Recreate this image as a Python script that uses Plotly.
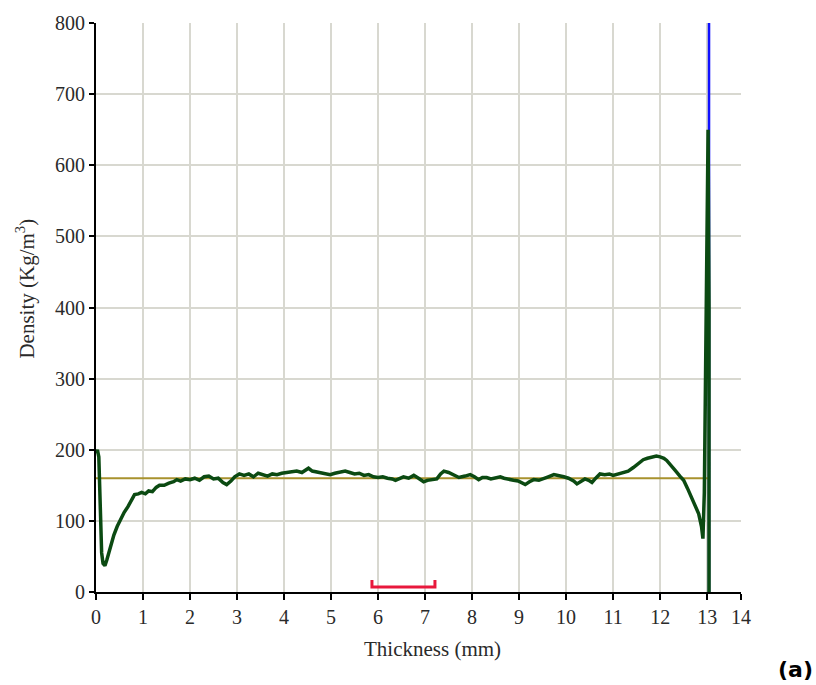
import plotly.graph_objects as go

# Density profile across the board thickness
thickness_mm = [
    0.00, 0.03, 0.06, 0.09, 0.12, 0.15, 0.19, 0.23, 0.28, 0.33, 0.38, 0.45, 0.52, 0.60, 0.68, 0.75,
    0.82, 0.90, 0.97, 1.05, 1.12, 1.20, 1.28, 1.35, 1.45, 1.55, 1.65, 1.72, 1.80, 1.90, 2.00, 2.10,
    2.20, 2.30, 2.40, 2.50, 2.60, 2.70, 2.78, 2.87, 2.95, 3.05, 3.15, 3.25, 3.35, 3.45, 3.55, 3.65,
    3.75, 3.85, 3.95, 4.05, 4.15, 4.27, 4.38, 4.45, 4.52, 4.60, 4.70, 4.80, 4.90, 4.98, 5.08, 5.18,
    5.30, 5.40, 5.50, 5.60, 5.70, 5.80, 5.90, 6.00, 6.10, 6.20, 6.30, 6.37, 6.45, 6.54, 6.65, 6.76,
    6.86, 6.97, 7.05, 7.15, 7.25, 7.33, 7.40, 7.50, 7.60, 7.72, 7.85, 7.96, 8.05, 8.14, 8.22, 8.31,
    8.40, 8.50, 8.60, 8.68, 8.78, 8.88, 8.98, 9.06, 9.13, 9.22, 9.31, 9.42, 9.52, 9.62, 9.74, 9.85,
    9.95, 10.05, 10.16, 10.23, 10.32, 10.40, 10.48, 10.55, 10.63, 10.72, 10.82, 10.92, 11.00, 11.10,
    11.22, 11.32, 11.43, 11.54, 11.64, 11.73, 11.82, 11.92, 12.00, 12.08, 12.14, 12.22, 12.32, 12.42,
    12.50, 12.58, 12.67, 12.75, 12.82, 12.88, 12.91, 12.94, 12.97, 13.00, 13.02, 13.04, 13.04,
]
density = [
    195, 200, 190, 120, 55, 40, 37, 45, 58, 70, 80, 92, 102, 112, 120, 128,
    137, 138, 140, 138, 142, 141, 147, 150, 150, 153, 155, 158, 156, 159, 158, 160,
    157, 162, 163, 159, 160, 154, 151, 156, 162, 166, 164, 166, 162, 167, 165, 163,
    166, 165, 167, 168, 168, 170, 168, 171, 174, 170, 169, 167, 166, 165, 167, 168,
    170, 168, 166, 167, 164, 165, 162, 161, 162, 160, 159, 157, 160, 162, 160, 164,
    160, 155, 157, 158, 159, 166, 170, 168, 165, 161, 163, 165, 162, 158, 161, 161,
    159, 161, 162, 160, 158, 157, 156, 154, 151, 155, 158, 157, 159, 162, 165, 164,
    162, 160, 156, 152, 156, 159, 157, 154, 160, 166, 165, 166, 164, 166,
    168, 170, 175, 180, 186, 188, 190, 191, 190, 188, 185, 178, 171, 163,
    157, 146, 133, 121, 110, 92, 75, 140, 320, 500, 650, 400, 0,
]

# Mean density and board edge
mean_density = 160
mean_span = [0.0, 13.04]
edge_x = 13.04
edge_span = [0, 800]

# Sampled zone marker
zone_x = [5.87, 5.87, 7.21, 7.21]
zone_y = [17, 7, 7, 17]

x_tick_vals = [0, 1, 2, 3, 4, 5, 6, 7, 8, 9, 10, 11, 12, 13, 13.72]
x_tick_text = ["0", "1", "2", "3", "4", "5", "6", "7", "8", "9", "10", "11", "12", "13", "14"]

serif = "Liberation Serif"
text_color = "#2a2a2a"

fig = go.Figure()
fig.add_trace(go.Scatter(x=[edge_x, edge_x], y=edge_span, mode="lines",
                         line=dict(color="#1010ff", width=2.5), hoverinfo="skip"))
fig.add_trace(go.Scatter(x=mean_span, y=[mean_density, mean_density], mode="lines",
                         line=dict(color="#a8922e", width=2), hoverinfo="skip"))
fig.add_trace(go.Scatter(x=thickness_mm, y=density, mode="lines",
                         line=dict(color="#0b4a12", width=3.5)))
fig.add_trace(go.Scatter(x=zone_x, y=zone_y, mode="lines",
                         line=dict(color="#e8183c", width=3), hoverinfo="skip"))

fig.update_layout(
    width=816, height=685,
    margin=dict(l=96, r=75, t=20, b=93),
    paper_bgcolor="white", plot_bgcolor="white",
    showlegend=False,
    font=dict(family=serif, size=20, color=text_color),
    xaxis=dict(range=[0, 13.72], tickvals=x_tick_vals, ticktext=x_tick_text,
               showline=True, linecolor="black", linewidth=2,
               ticks="outside", ticklen=6, tickwidth=2, tickcolor="black",
               showgrid=True, gridcolor="#d8d8d0", gridwidth=1.5, zeroline=False),
    yaxis=dict(range=[0, 800], dtick=100,
               showline=True, linecolor="black", linewidth=2,
               ticks="outside", ticklen=5, tickwidth=1.5, tickcolor="black",
               showgrid=True, gridcolor="#d8d8d0", gridwidth=1.5, zeroline=False),
    annotations=[
        dict(text="Thickness (mm)", xref="paper", yref="paper",
             x=(433 - 96) / 645, y=-(649 - 592) / 572, xanchor="center", yanchor="middle",
             showarrow=False, font=dict(family=serif, size=21, color=text_color)),
        dict(text="Density (Kg/m<sup>3</sup>)", xref="paper", yref="paper",
             x=-(96 - 26) / 645, y=(592 - 287) / 572, xanchor="center", yanchor="middle",
             showarrow=False, textangle=-90,
             font=dict(family=serif, size=21, color=text_color)),
        dict(text="<b>(a)</b>", xref="paper", yref="paper",
             x=(795 - 96) / 645, y=-(670 - 592) / 572, xanchor="center", yanchor="middle",
             showarrow=False, font=dict(family="DejaVu Sans", size=22, color="black")),
    ],
)

fig.write_html("out.html")
